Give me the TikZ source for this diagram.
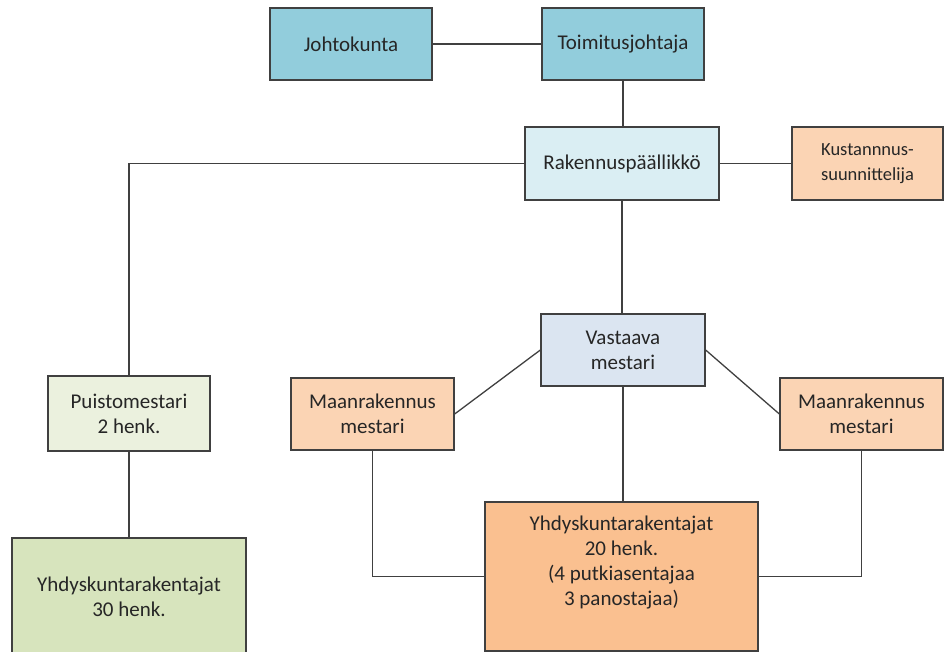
\documentclass[tikz,border=0pt]{standalone}
\usepackage{fontspec}
\setmainfont{Carlito}
\definecolor{cAqua}{HTML}{92CDDC}
\definecolor{cLightBlue}{HTML}{DAEEF3}
\definecolor{cPeach}{HTML}{FBD4B4}
\definecolor{cGreyBlue}{HTML}{DBE5F1}
\definecolor{cPaleGreen}{HTML}{EBF1DE}
\definecolor{cOlive}{HTML}{D7E4BD}
\definecolor{cOrange}{HTML}{FAC090}
\definecolor{cEdge}{HTML}{404040}
\definecolor{cText}{HTML}{262626}
\begin{document}
\begin{tikzpicture}[x=1pt,y=-1pt,
  orgbox/.style={draw=cEdge, line width=1.3pt, inner sep=0pt, align=center,
    text=cText, font=\fontsize{21}{25}\selectfont},
  link/.style={draw=cEdge, line width=1.3pt}]
\useasboundingbox (0,0) rectangle (945,652);
\begin{scope}
\clip (0,0) rectangle (945,652);
\node[orgbox, fill=cAqua, minimum width=162pt, minimum height=72pt] (johto) at (351,44) {Johtokunta};
\node[orgbox, fill=cAqua, minimum width=162pt, minimum height=72pt] (toim) at (623,44) {Toimitusjohtaja};
\node[orgbox, fill=cLightBlue, minimum width=194pt, minimum height=73pt] (rak) at (622,163.5) {Rakennuspäällikkö};
\node[orgbox, fill=cPeach, minimum width=151pt, minimum height=73pt, font=\fontsize{18.5}{25}\selectfont] (kust) at (867.5,163.5) {Kustannnus-\\suunnittelija};
\node[orgbox, fill=cGreyBlue, minimum width=164pt, minimum height=72pt] (vast) at (623,350) {Vastaava\\mestari};
\node[orgbox, fill=cPeach, minimum width=163pt, minimum height=72pt] (mlA) at (372.5,414) {Maanrakennus\\mestari};
\node[orgbox, fill=cPeach, minimum width=163pt, minimum height=72pt] (mlB) at (861.5,414) {Maanrakennus\\mestari};
\node[orgbox, fill=cPaleGreen, minimum width=162pt, minimum height=75pt] (puisto) at (129,413.5) {Puistomestari\\2 henk.};
\node[orgbox, fill=cOlive, minimum width=234pt, minimum height=118pt] (yhdL) at (129,597) {Yhdyskuntarakentajat\\30 henk.};
\node[orgbox, fill=cOrange, minimum width=273pt, minimum height=149pt] (yhdC) at (621.5,576.5) {Yhdyskuntarakentajat\\20 henk.\\(4 putkiasentajaa\\3 panostajaa)\\\strut};
\draw[link] (johto) -- (toim);
\draw[link] (toim.south) -- (toim.south |- rak.north);
\draw[link] (rak) -- (kust);
\draw[link] (rak.west) -| (puisto.north);
\draw[link] (rak.south) -- (rak.south |- vast.north);
\draw[link] (vast.west) -- (mlA.east);
\draw[link] (vast.east) -- (mlB.west);
\draw[link] (vast.south) -- (vast.south |- yhdC.north);
\draw[link] (mlA.south) |- (yhdC.west);
\draw[link] (mlB.south) |- (yhdC.east);
\draw[link] (puisto.south) -- (yhdL.north);
\end{scope}
\end{tikzpicture}
\end{document}
